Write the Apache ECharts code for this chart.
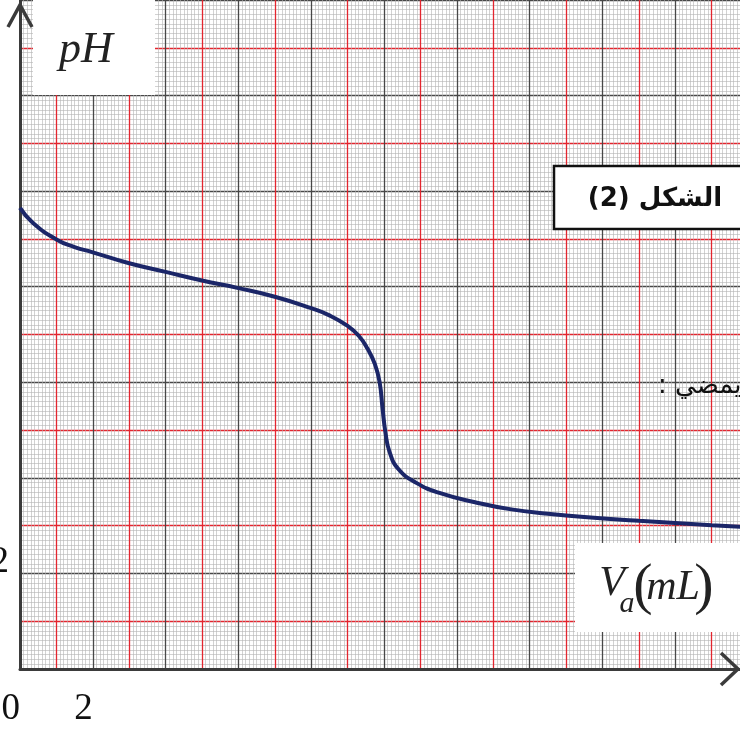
<!DOCTYPE html>
<html>
<head>
<meta charset="utf-8">
<script src="https://cdn.jsdelivr.net/npm/echarts@6/dist/echarts.min.js"></script>
<style>
  html, body { margin: 0; padding: 0; background: #fff; }
  #chart { width: 740px; height: 729px; }
</style>
</head>
<body>
<div id="chart"></div>
<script>
// Titration curve: pH of the mixture against added acid volume Va (mL)
const volumeMl = [0, 0.35, 1, 1.5, 2, 3, 4, 5, 6, 7, 8, 8.5, 9, 9.3, 9.55, 9.75, 9.88, 9.96,
                  10.04, 10.15, 10.4, 10.9, 11.5, 12.5, 13.5, 14.5, 15.5, 17, 19, 20];
const phValues = [9.65, 9.34, 8.99, 8.83, 8.72, 8.49, 8.31, 8.13, 7.97, 7.79, 7.55, 7.40, 7.18, 6.98,
                  6.70, 6.38, 6.00, 5.45, 4.95, 4.55, 4.18, 3.89, 3.69, 3.49, 3.34, 3.25, 3.18,
                  3.10, 3.01, 2.97];

// Axis ranges and the only tick labels printed on the paper
const xRange = [0, 20];
const yRange = [0, 14];
const xTickLabels = ['0', '2'];
const yTickLabels = ['2'];

const RED = '#e3262f';
const DARK = '#484848';
const MINOR = '#b4b4b4';
const AXIS = '#3b3b3b';
const CURVE = '#1b2668';

const chart = echarts.init(document.getElementById('chart'), null, { renderer: 'canvas' });

const curveData = volumeMl.map((v, i) => [v, phValues[i]]);

function paperAxis(range) {
  return {
    type: 'value',
    min: range[0],
    max: range[1],
    interval: 1,
    axisTick: { show: false },
    minorTick: { show: false, splitNumber: 10 },
    splitLine: { show: true, lineStyle: { color: [DARK, RED], width: 1.3 } },
    minorSplitLine: { show: true, lineStyle: { color: MINOR, width: 0.6 } },
    axisLine: { show: true, onZero: false, lineStyle: { color: AXIS, width: 3 } }
  };
}

const xAxis = paperAxis(xRange);
xAxis.axisLabel = {
  show: true,
  margin: 22,
  align: 'right',
  fontFamily: 'Liberation Serif',
  fontSize: 37,
  color: '#111',
  formatter: v => (xTickLabels.indexOf(String(v)) >= 0 ? String(v) : '')
};

const yAxis = paperAxis(yRange);
yAxis.axisLabel = {
  show: true,
  margin: 11,
  align: 'right',
  verticalAlign: 'bottom',
  lineHeight: 22,
  fontFamily: 'Liberation Serif',
  fontSize: 37,
  color: '#111',
  formatter: v => (yTickLabels.indexOf(String(v)) >= 0 ? String(v) : '')
};

chart.setOption({
  backgroundColor: '#ffffff',
  animation: false,
  grid: { left: 20, right: -8, top: 0, bottom: 60, containLabel: false, outerBoundsMode: 'none' },
  xAxis: xAxis,
  yAxis: yAxis,
  series: [{
    type: 'line',
    data: curveData,
    smooth: 0.5,
    showSymbol: false,
    clip: true,
    lineStyle: { color: CURVE, width: 4 },
    z: 5
  }],
  graphic: [
    // axis arrow heads
    { type: 'polyline', z: 20, shape: { points: [[8, 27], [20, 5], [32, 27]] },
      style: { stroke: AXIS, lineWidth: 3.5, fill: null, lineJoin: 'miter' } },
    { type: 'polyline', z: 20, shape: { points: [[721, 653], [738, 669], [721, 685]] },
      style: { stroke: AXIS, lineWidth: 3.5, fill: null, lineJoin: 'miter' } },
    // pH label
    { type: 'rect', z: 10, shape: { x: 33, y: 0, width: 122, height: 95 },
      style: { fill: '#ffffff' } },
    { type: 'text', z: 11, x: 86, y: 50,
      style: { text: 'pH', font: 'italic 44px "Liberation Serif"', fill: '#222',
               align: 'center', verticalAlign: 'middle' } },
    // Va (mL) label
    { type: 'rect', z: 10, shape: { x: 575, y: 543, width: 170, height: 89 },
      style: { fill: '#ffffff' } },
    { type: 'text', z: 11, x: 612, y: 584,
      style: { text: 'V', font: 'italic 42px "Liberation Serif"', fill: '#222',
               align: 'center', verticalAlign: 'middle' } },
    { type: 'text', z: 11, x: 627, y: 604,
      style: { text: 'a', font: 'italic 30px "Liberation Serif"', fill: '#222',
               align: 'center', verticalAlign: 'middle' } },
    { type: 'text', z: 11, x: 643, y: 588,
      style: { text: '(', font: '300 58px "Liberation Serif"', fill: '#222',
               align: 'center', verticalAlign: 'middle' } },
    { type: 'text', z: 11, x: 673, y: 588,
      style: { text: 'mL', font: 'italic 42px "Liberation Serif"', fill: '#222',
               align: 'center', verticalAlign: 'middle' } },
    { type: 'text', z: 11, x: 704, y: 588,
      style: { text: ')', font: '300 58px "Liberation Serif"', fill: '#222',
               align: 'center', verticalAlign: 'middle' } },
    // figure caption box
    { type: 'rect', z: 10, shape: { x: 554, y: 166, width: 200, height: 63 },
      style: { fill: '#ffffff', stroke: '#111', lineWidth: 2.5 } },
    { type: 'text', z: 11, x: 655, y: 199,
      style: { text: '\u202Bالشكل (2)\u202C', font: 'bold 26px "DejaVu Sans"', fill: '#111',
               align: 'center', verticalAlign: 'middle' } },
    // cut-off line of text on the right edge
    { type: 'text', z: 11, x: 658, y: 386,
      style: { text: '\u202Bيمضي :\u202C', font: '26px "DejaVu Sans"', fill: '#111',
               align: 'left', verticalAlign: 'middle' } }
  ]
});
</script>
</body>
</html>
